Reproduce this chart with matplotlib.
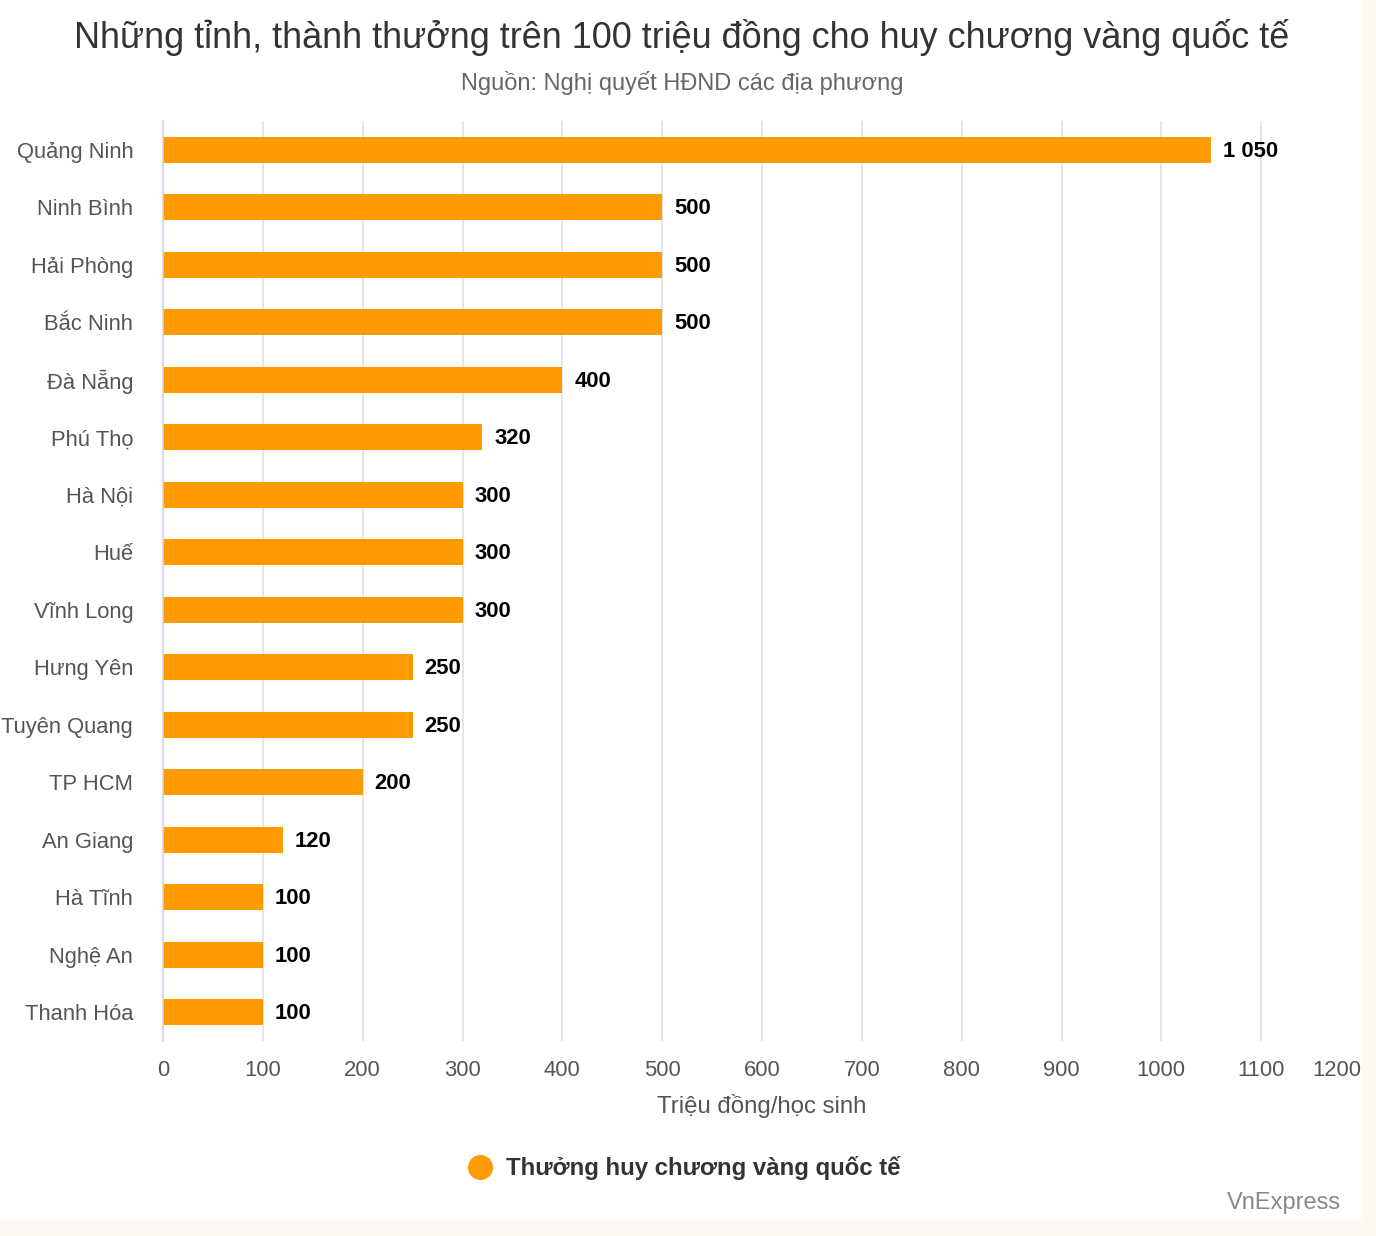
import matplotlib
matplotlib.use("Agg")
import matplotlib.pyplot as plt
from matplotlib.patches import Rectangle
from matplotlib.lines import Line2D

plt.rcParams['font.family'] = ['Liberation Sans', 'DejaVu Sans']

categories = ["Quảng Ninh", "Ninh Bình", "Hải Phòng", "Bắc Ninh", "Đà Nẵng", "Phú Thọ",
              "Hà Nội", "Huế", "Vĩnh Long", "Hưng Yên", "Tuyên Quang", "TP HCM",
              "An Giang", "Hà Tĩnh", "Nghệ An", "Thanh Hóa"]
values = [1050, 500, 500, 500, 400, 320, 300, 300, 300, 250, 250, 200, 120, 100, 100, 100]
value_labels = ["1 050", "500", "500", "500", "400", "320", "300", "300", "300",
                "250", "250", "200", "120", "100", "100", "100"]
xticks = [0, 100, 200, 300, 400, 500, 600, 700, 800, 900, 1000, 1100, 1200]

title = "Những tỉnh, thành thưởng trên 100 triệu đồng cho huy chương vàng quốc tế"
subtitle = "Nguồn: Nghị quyết HĐND các địa phương"
xlabel = "Triệu đồng/học sinh"
legend_label = "Thưởng huy chương vàng quốc tế"
credit = "VnExpress"

W, H = 1376, 1236
fig = plt.figure(figsize=(W / 100, H / 100), dpi=100)
fig.patch.set_facecolor("#FFF9F3")
# white card
card = Rectangle((0, 1 - 1220 / H), 1362 / W, 1220 / H, transform=fig.transFigure,
                 facecolor="white", edgecolor="none", zorder=-5)
fig.add_artist(card)

ax = fig.add_axes([163 / W, 1 - 1041 / H, 1198 / W, 920 / H])
ax.set_facecolor("none")
orange = "#FF9A00"
ypos = list(range(len(categories)))
ax.barh(ypos, values, height=0.45, color=orange, zorder=3)
for y, v, lab in zip(ypos, values, value_labels):
    ax.text(v + 12, y + 0.03, lab, va="center", ha="left", fontsize=15.8, fontweight="bold",
            color="black", zorder=4)

tick_fs = 15.8
tick_pad = 14
ax.set_xlim(0, 1200)
ax.set_ylim(len(categories) - 0.5, -0.5)
ax.set_yticks(ypos)
ax.set_yticklabels(categories, fontsize=tick_fs, color="#555555")
ax.set_xticks(xticks[:-1])
ax.set_xticklabels([str(t) for t in xticks[:-1]], fontsize=tick_fs, color="#555555")
ax.tick_params(axis="both", length=0)
ax.tick_params(axis="y", pad=21.5)
ax.tick_params(axis="x", pad=tick_pad)
# last tick label sits inside the plot edge, right-aligned
ax.annotate(str(xticks[-1]), xy=(xticks[-1], 0), xycoords=("data", "axes fraction"),
            xytext=(0, -tick_pad), textcoords="offset points", ha="right", va="top",
            fontsize=tick_fs, color="#555555")
ax.grid(axis="x", color="#e3e3e3", linewidth=1.3, zorder=0)
for s in ["top", "right", "bottom"]:
    ax.spines[s].set_visible(False)
ax.spines["left"].set_color("#ccd6eb")
ax.spines["left"].set_linewidth(1.2)
ax.spines["left"].set_zorder(5)

ax.set_xlabel(xlabel, fontsize=17.3, color="#555555", labelpad=9)

fig.text(682 / W, 1 - 37 / H, title, ha="center", va="center", fontsize=25.9, color="#333333")
fig.text(682 / W, 1 - 83 / H, subtitle, ha="center", va="center", fontsize=17, color="#666666")

fig.add_artist(Line2D([480 / W], [1 - 1167 / H], marker="o", markersize=17,
                      color=orange, transform=fig.transFigure, linestyle="none"))
fig.text(506 / W, 1 - 1168 / H, legend_label, ha="left", va="center", fontsize=17.3,
         fontweight="bold", color="#333333")
fig.text(1341 / W, 1 - 1203 / H, credit, ha="right", va="center", fontsize=17, color="#888888")

fig.savefig("out.png", dpi=100, facecolor=fig.get_facecolor())
